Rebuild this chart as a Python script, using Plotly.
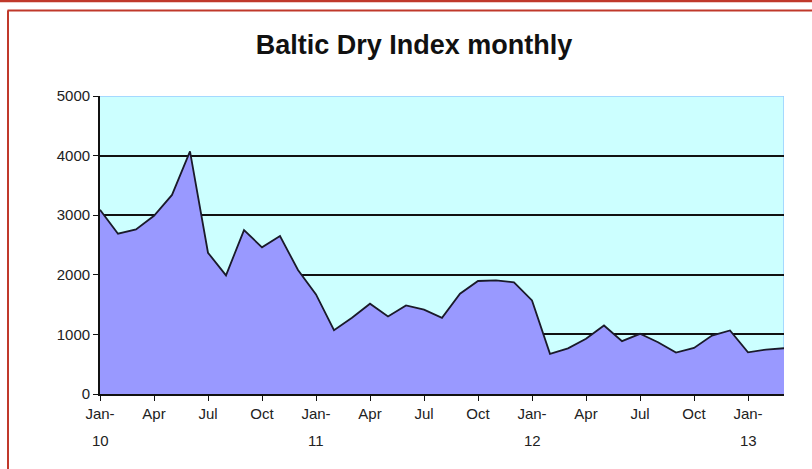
import plotly.graph_objects as go

months = ["Jan-10","Feb-10","Mar-10","Apr-10","May-10","Jun-10","Jul-10","Aug-10","Sep-10","Oct-10","Nov-10","Dec-10",
          "Jan-11","Feb-11","Mar-11","Apr-11","May-11","Jun-11","Jul-11","Aug-11","Sep-11","Oct-11","Nov-11","Dec-11",
          "Jan-12","Feb-12","Mar-12","Apr-12","May-12","Jun-12","Jul-12","Aug-12","Sep-12","Oct-12","Nov-12","Dec-12",
          "Jan-13","Feb-13","Mar-13"]
bdi = [3090, 2690, 2760, 2990, 3340, 4070, 2370, 1990, 2750, 2460, 2650, 2080,
       1670, 1070, 1280, 1515, 1300, 1487, 1414, 1279, 1683, 1896, 1907, 1874,
       1571, 675, 765, 926, 1150, 886, 1010, 869, 695, 774, 981, 1066,
       700, 746, 768]
tick_idx = [0, 3, 6, 9, 12, 15, 18, 21, 24, 27, 30, 33, 36]
tick_text = ["Jan-", "Apr", "Jul", "Oct", "Jan-", "Apr", "Jul", "Oct",
             "Jan-", "Apr", "Jul", "Oct", "Jan-"]
year_idx = [0, 12, 24, 36]
year_text = ["10", "11", "12", "13"]
y_ticks = [0, 1000, 2000, 3000, 4000, 5000]

x = list(range(len(months)))

fig = go.Figure()
fig.add_trace(go.Scatter(
    x=x, y=bdi, mode="lines", fill="tozeroy",
    fillcolor="#9999FF", line=dict(color="#1a1a2a", width=1.8),
    text=months, hoverinfo="text+y", showlegend=False))

W, H = 812, 469
L, R, T, B = 100, 28, 96, 75
pw, ph = W - L - R, H - T - B

def px(xp):
    return (xp - L) / pw

def py(yp):
    return (H - B - yp) / ph

red = "#C0392B"
shapes = [
    dict(type="line", xref="paper", yref="paper", x0=px(0), x1=px(W), y0=py(1.2), y1=py(1.2),
         line=dict(color=red, width=2.2)),
    dict(type="line", xref="paper", yref="paper", x0=px(7.5), x1=px(W), y0=py(10.5), y1=py(10.5),
         line=dict(color=red, width=2)),
    dict(type="line", xref="paper", yref="paper", x0=px(8), x1=px(8), y0=py(10.5), y1=py(H),
         line=dict(color=red, width=2)),
    dict(type="line", xref="x", yref="y", x0=0, x1=38, y0=5000, y1=5000,
         line=dict(color="#99CCFF", width=1.5)),
    dict(type="line", xref="x", yref="y", x0=38, x1=38, y0=0, y1=5000,
         line=dict(color="#99CCFF", width=1.5), layer="below"),
]

annotations = [
    dict(x=xi, y=py(440), xref="x", yref="paper", text=t, showarrow=False,
         xanchor="center", yanchor="middle",
         font=dict(family="Liberation Sans, Arial", size=15, color="#222"))
    for xi, t in zip(year_idx, year_text)
]

fig.update_layout(
    width=W, height=H,
    margin=dict(l=L, r=R, t=T, b=B),
    paper_bgcolor="white", plot_bgcolor="#CCFFFF",
    title=dict(text="<b>Baltic Dry Index monthly</b>", x=px(414), xref="paper", xanchor="center",
               y=1 - 45 / H, yanchor="middle",
               font=dict(family="Liberation Sans, Arial", size=27, color="#111")),
    font=dict(family="Liberation Sans, Arial", size=15, color="#222"),
    shapes=shapes,
    annotations=annotations,
    xaxis=dict(range=[0, 38], tickmode="array", tickvals=tick_idx, ticktext=tick_text,
               showgrid=False, zeroline=False, showline=True, linecolor="#111", linewidth=1.8,
               ticks="outside", ticklen=5, tickcolor="#111", tickangle=0),
    yaxis=dict(range=[0, 5000], tickmode="array", tickvals=y_ticks,
               showgrid=True, gridcolor="#111", gridwidth=1.6, zeroline=False,
               showline=True, linecolor="#111", linewidth=1.8,
               ticks="outside", ticklen=5, tickcolor="#111"),
)

fig.write_html("out.html", config={"displayModeBar": False},
               post_script="document.body.style.margin='0';document.body.style.overflow='hidden';")
